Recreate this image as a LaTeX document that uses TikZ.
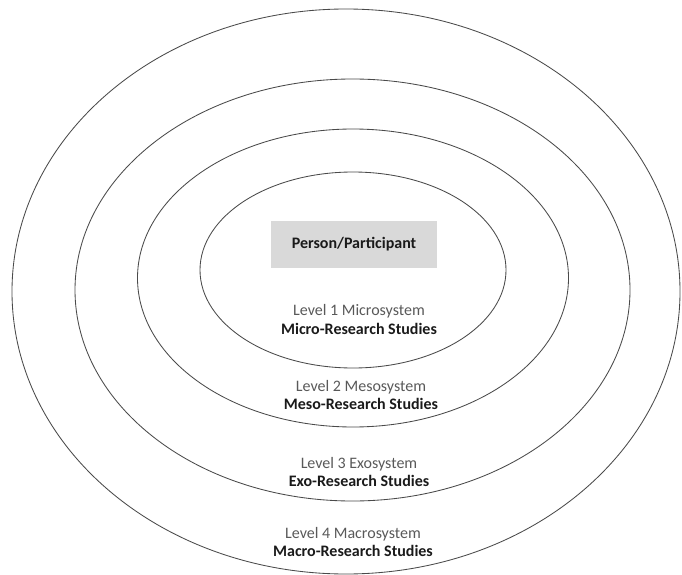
\documentclass[tikz,border=0pt]{standalone}
\usepackage{fontspec}
\setmainfont{Carlito}
\usetikzlibrary{shapes.geometric}
\definecolor{ringline}{HTML}{4A4A4A}
\definecolor{boxfill}{HTML}{D9D9D9}
\definecolor{leveltext}{HTML}{595959}
\definecolor{studytext}{HTML}{1A1A1A}
\tikzset{
  ring/.style={ellipse, draw=ringline, line width=0.85pt, inner sep=0pt, fill=none},
  personbox/.style={fill=boxfill, minimum width=166pt, minimum height=47pt, inner sep=0pt,
    font=\fontsize{16}{18.5}\selectfont\bfseries, text=studytext},
  levellabel/.style={align=center, inner sep=0pt, font=\fontsize{16}{18.5}\selectfont}
}
\newcommand{\levelpair}[2]{\textcolor{leveltext}{#1}\\\textcolor{studytext}{\bfseries #2}}
\begin{document}
\begin{tikzpicture}[x=1pt,y=-1pt]
  \useasboundingbox (0,0) rectangle (682,575);
  % four nested systems
  \node[ring, minimum width=668pt, minimum height=565pt] (macro) at (346,291.5) {};
  \node[ring, minimum width=555pt, minimum height=422pt] (exo)   at (352.5,290) {};
  \node[ring, minimum width=431pt, minimum height=298pt] (meso)  at (353,278) {};
  \node[ring, minimum width=306pt, minimum height=196pt] (micro) at (353,270) {};
  % centre of the model
  \node[personbox] (person) at (354,244.5) {Person/Participant};
  % level captions
  \node[levellabel] (l1) at (359,319.5) {\levelpair{Level 1 Microsystem}{Micro-Research Studies}};
  \node[levellabel] (l2) at (361,395) {\levelpair{Level 2 Mesosystem}{Meso-Research Studies}};
  \node[levellabel] (l3) at (359,472) {\levelpair{Level 3 Exosystem}{Exo-Research Studies}};
  \node[levellabel] (l4) at (353,542) {\levelpair{Level 4 Macrosystem}{Macro-Research Studies}};
\end{tikzpicture}
\end{document}
